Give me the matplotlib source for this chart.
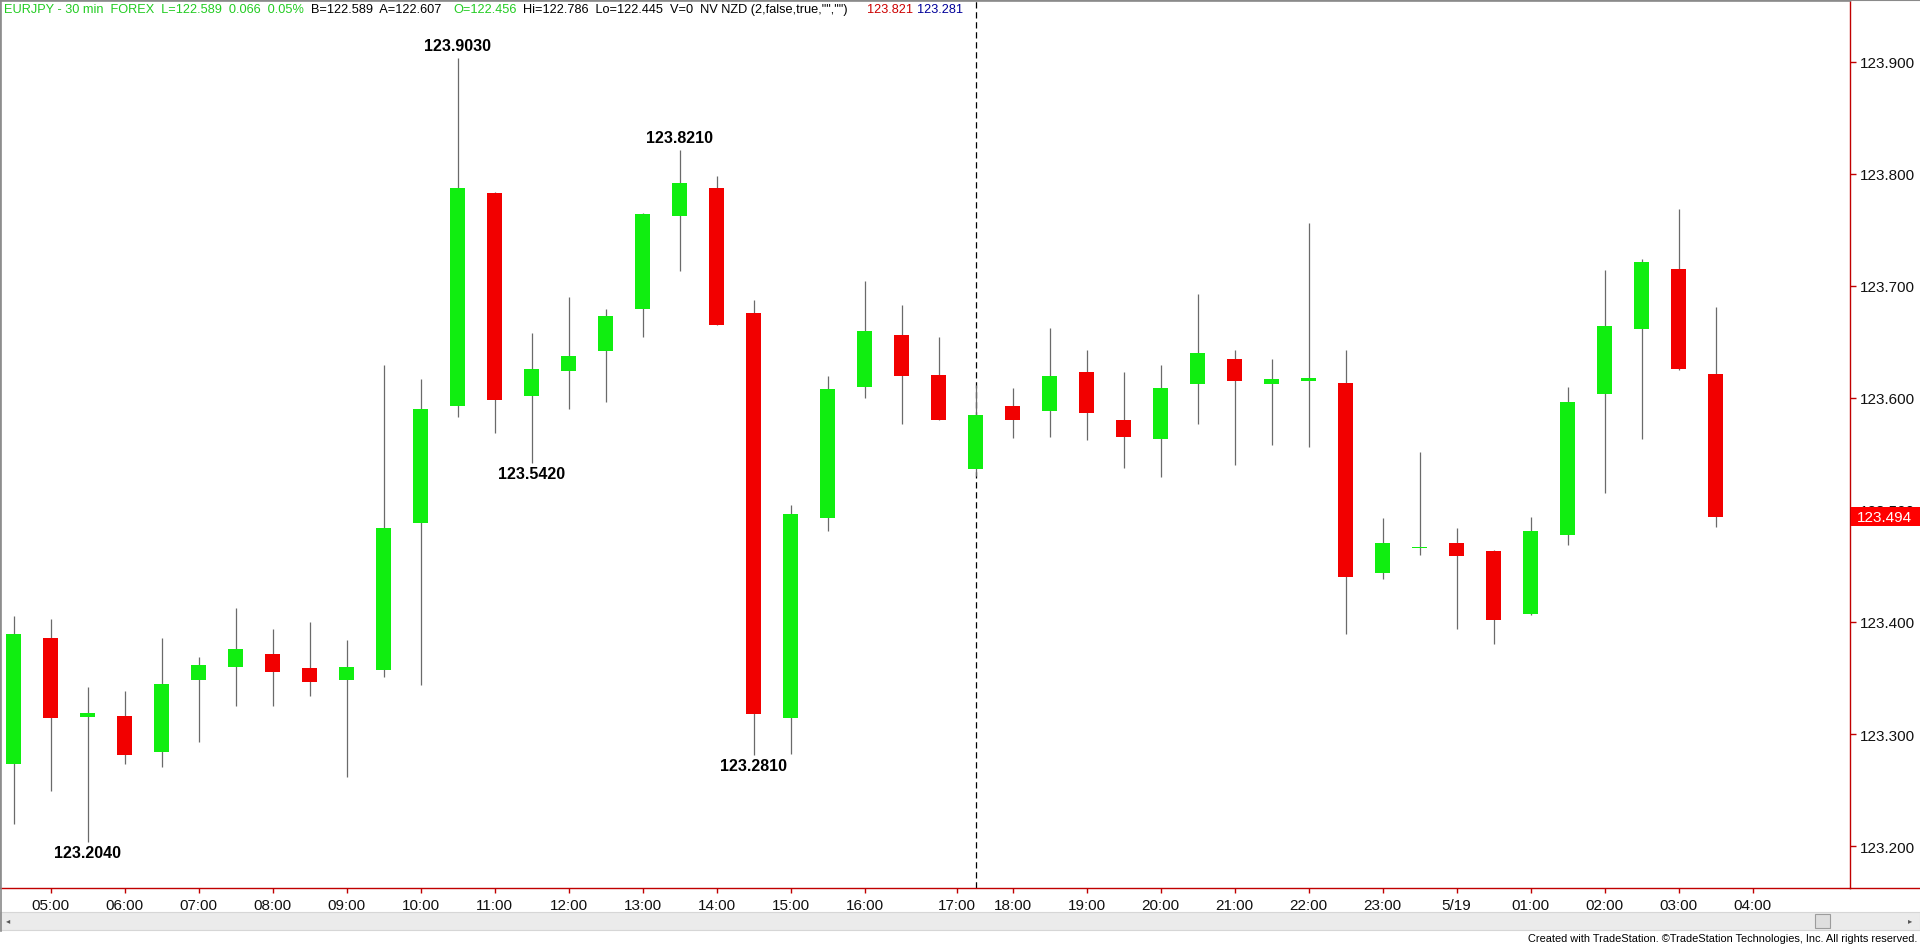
import matplotlib
matplotlib.use('Agg')
import matplotlib.pyplot as plt
import matplotlib.transforms as mtransforms
from matplotlib.patches import Rectangle
from matplotlib.lines import Line2D
import numpy as np

plt.rcParams['font.family'] = ['Liberation Sans', 'DejaVu Sans']

# 30 min EURJPY bars, 04:30 .. 03:30
opens = [123.273, 123.386, 123.315, 123.316, 123.284, 123.348, 123.360, 123.371, 123.359, 123.348,
         123.357, 123.488, 123.593, 123.783, 123.602, 123.624, 123.642, 123.679, 123.762, 123.787,
         123.676, 123.314, 123.493, 123.610, 123.656, 123.620, 123.536, 123.593, 123.588, 123.623,
         123.580, 123.563, 123.612, 123.635, 123.612, 123.615, 123.613, 123.444, 123.466, 123.470,
         123.463, 123.407, 123.478, 123.603, 123.661, 123.715, 123.621]
highs = [123.405, 123.403, 123.342, 123.338, 123.386, 123.369, 123.412, 123.394, 123.400, 123.384,
         123.629, 123.617, 123.903, 123.784, 123.658, 123.690, 123.679, 123.765, 123.821, 123.798,
         123.687, 123.504, 123.619, 123.704, 123.683, 123.654, 123.611, 123.609, 123.662, 123.643,
         123.623, 123.629, 123.693, 123.643, 123.635, 123.756, 123.643, 123.493, 123.552, 123.484,
         123.464, 123.494, 123.610, 123.714, 123.724, 123.768, 123.681]
lows = [123.220, 123.249, 123.204, 123.273, 123.271, 123.293, 123.325, 123.325, 123.334, 123.262,
        123.351, 123.344, 123.583, 123.569, 123.542, 123.590, 123.596, 123.654, 123.713, 123.665,
        123.281, 123.282, 123.481, 123.600, 123.577, 123.580, 123.530, 123.564, 123.565, 123.562,
        123.537, 123.529, 123.577, 123.540, 123.558, 123.556, 123.389, 123.438, 123.460, 123.394,
        123.380, 123.406, 123.469, 123.515, 123.563, 123.625, 123.485]
closes = [123.389, 123.314, 123.319, 123.281, 123.345, 123.362, 123.376, 123.355, 123.346, 123.360,
          123.484, 123.590, 123.787, 123.598, 123.626, 123.637, 123.673, 123.764, 123.792, 123.665,
          123.318, 123.496, 123.608, 123.660, 123.619, 123.580, 123.585, 123.580, 123.619, 123.586,
          123.565, 123.609, 123.640, 123.615, 123.617, 123.618, 123.440, 123.470, 123.467, 123.459,
          123.402, 123.481, 123.596, 123.664, 123.721, 123.626, 123.494]

# swing labels: (bar, 'high'/'low')
swing_marks = [(12, 'high'), (18, 'high'), (14, 'low'), (20, 'low'), (2, 'low')]
session_break_bar = 26

tick_pos = [1, 3, 5, 7, 9, 11, 13, 15, 17, 19, 21, 23, 25.5, 27, 29, 31, 33, 35, 37, 39, 41, 43, 45, 47]
tick_labels = ['05:00', '06:00', '07:00', '08:00', '09:00', '10:00', '11:00', '12:00', '13:00', '14:00',
               '15:00', '16:00', '17:00', '18:00', '19:00', '20:00', '21:00', '22:00', '23:00', '5/19',
               '01:00', '02:00', '03:00', '04:00']
price_ticks = [123.2, 123.3, 123.4, 123.5, 123.6, 123.7, 123.8, 123.9]

header = [
    (4, 'EURJPY - 30 min  FOREX  L=122.589  0.066  0.05%', '#22cc22'),
    (311, 'B=122.589  A=122.607', 'black'),
    (453, 'O=122.456', '#22cc22'),
    (523, 'Hi=122.786  Lo=122.445  V=0  NV NZD (2,false,true,"","")', 'black'),
    (867, '123.821', '#cc0000'),
    (917, '123.281', '#000099'),
]

W, H = 1920, 945
GREEN = '#10ee10'
RED = '#f20000'
AXRED = '#c00000'

fig = plt.figure(figsize=(W / 100, H / 100), dpi=100, facecolor='white')
ax = fig.add_axes([0, (H - 889) / H, 1850 / W, 887 / H])

o = np.array(opens)
c = np.array(closes)
x = np.arange(len(o))
up = c >= o
colors = [GREEN if u else RED for u in up]

ax.vlines(x, lows, highs, color='#6a6a6a', lw=0.9, zorder=2)
ax.bar(x, np.maximum(np.abs(c - o), 0.0008), bottom=np.minimum(o, c), width=0.41,
       color=colors, linewidth=0, zorder=3)

ax.axvline(session_break_bar, color='black', lw=0.9, ls=(0, (5, 3)), zorder=1)

for i, kind in swing_marks:
    if kind == 'high':
        ax.annotate(f'{highs[i]:.4f}', (i, highs[i]), xytext=(0, 5), textcoords='offset pixels',
                    ha='center', va='bottom', fontsize=11.5, fontweight='bold')
    else:
        ax.annotate(f'{lows[i]:.4f}', (i, lows[i]), xytext=(0, -3), textcoords='offset pixels',
                    ha='center', va='top', fontsize=11.5, fontweight='bold')

ax.set_xlim(-0.365, 49.63)
ax.set_ylim(123.1626, 123.954)

ax.yaxis.tick_right()
ax.set_yticks(price_ticks)
ax.set_yticklabels([f'{p:.3f}' for p in price_ticks])
ax.set_xticks(tick_pos)
ax.set_xticklabels(tick_labels)
ax.set_xticks([39], minor=True)
ax.tick_params(axis='y', which='major', colors=AXRED, labelcolor='#111111', length=4, width=1,
               pad=3, labelsize=11)
ax.tick_params(axis='x', which='major', colors=AXRED, labelcolor='#111111', length=3.5, width=1,
               pad=4, labelsize=11)
ax.tick_params(axis='x', which='minor', colors=AXRED, length=11, width=1)

for side in ['right', 'bottom']:
    ax.spines[side].set_color(AXRED)
    ax.spines[side].set_linewidth(1)
for side in ['top', 'left']:
    ax.spines[side].set_color('#8a8a8a')
    ax.spines[side].set_linewidth(1.2)

# frame pieces outside the axes
fig.add_artist(Line2D([1850 / W, 1], [(H - 889) / H] * 2, color=AXRED, lw=1))
fig.add_artist(Line2D([0, 1], [1 - 1 / H] * 2, color='#8a8a8a', lw=1.5))
fig.add_artist(Line2D([0.6 / W] * 2, [(H - 932) / H, 1], color='#8a8a8a', lw=1.2))

# last price tag (covers part of the 123.500 label, as in TradeStation)
trans = mtransforms.blended_transform_factory(fig.transFigure, ax.transData)
last = closes[-1]
fig.add_artist(Rectangle((1851 / W, last - 0.0082), 69 / W, 0.0164, transform=trans,
                         facecolor='#ff0000', edgecolor='none', zorder=5))
fig.text(1857 / W, last, f'{last:.3f}', transform=trans, color='white', fontsize=11,
         va='center', ha='left', zorder=6)

# header line
for xp, s, col in header:
    fig.text(xp / W, 1 - 10 / H, s, color=col, fontsize=9.2, va='center', ha='left')

# scrollbar
fig.add_artist(Rectangle((0, (H - 931) / H), 1, 18 / H, facecolor='#ebebeb',
                         edgecolor='#d6d6d6', lw=0.8))
fig.add_artist(Rectangle((1815 / W, (H - 929) / H), 15 / W, 14 / H, facecolor='#dedede',
                         edgecolor='#9c9c9c', lw=0.8))
fig.text(6 / W, 1 - 922 / H, '◂', fontsize=6, color='#555555', va='center', ha='left')
fig.text(1908 / W, 1 - 922 / H, '▸', fontsize=6, color='#555555', va='center', ha='left')

fig.text(1917 / W, 1 - 939 / H,
         'Created with TradeStation. \u00a9TradeStation Technologies, Inc. All rights reserved.',
         fontsize=7.9, ha='right', va='center', color='black')

fig.savefig('out.png', dpi=100, facecolor='white')
